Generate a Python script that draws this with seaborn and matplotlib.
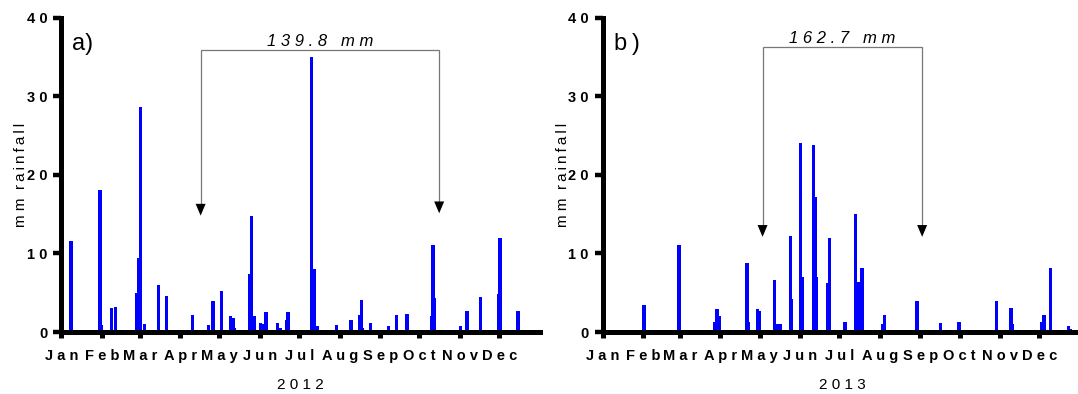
import numpy as np
import pandas as pd
import matplotlib
matplotlib.use("Agg")
import matplotlib.pyplot as plt
import seaborn as sns

# Daily rainfall: day of year (0 = 1 January) and amount in mm
days_2012 = [7, 29, 30, 38, 41, 57, 59, 60, 63, 74, 80, 100, 112, 115, 116, 122,
             129, 131, 132, 144, 145, 147, 152, 154, 156, 164, 165, 167, 172, 173,
             182, 183, 191, 193, 195, 209, 210, 221, 228, 229, 230, 236, 250, 256,
             264, 283, 284, 285, 305, 310, 320, 334, 335, 349]
rain_2012 = [11.6, 18.0, 0.9, 3.0, 3.2, 5.0, 9.4, 28.6, 1.0, 6.0, 4.6, 2.1, 0.9, 4.0,
             4.0, 5.2, 2.0, 1.8, 0.5, 7.4, 14.8, 2.0, 1.2, 1.0, 2.5, 0.3, 1.2, 0.5,
             1.5, 2.6, 0.3, 0.3, 35.0, 8.0, 0.7, 0.2, 0.9, 1.5, 2.1, 4.1, 0.5, 1.2,
             0.7, 2.1, 2.3, 2.0, 11.1, 4.3, 0.7, 2.7, 4.5, 4.8, 12.0, 2.7]

days_2013 = [31, 58, 85, 87, 89, 110, 111, 118, 119, 131, 133, 135, 143, 144, 149,
             151, 152, 161, 162, 163, 172, 173, 185, 193, 195, 198, 200, 214, 215,
             240, 256, 258, 272, 301, 312, 313, 332, 335, 337, 342, 356, 357]
rain_2013 = [3.4, 11.1, 1.3, 2.9, 2.0, 8.8, 1.3, 2.9, 2.7, 6.6, 1.0, 1.0, 12.2, 4.2,
             0.2, 24.0, 7.0, 23.8, 17.2, 7.0, 6.2, 12.0, 1.3, 15.0, 6.4, 8.2, 0.2,
             1.0, 2.1, 4.0, 0.2, 1.1, 1.3, 3.9, 3.1, 1.0, 0.2, 1.3, 2.1, 8.2, 0.7, 0.4]

months = ["Jan", "Feb", "Mar", "Apr", "May", "Jun",
          "Jul", "Aug", "Sep", "Oct", "Nov", "Dec"]
month_starts_2012 = [0, 31, 60, 91, 121, 152, 182, 213, 244, 274, 305, 335]
month_starts_2013 = [0, 31, 59, 90, 120, 151, 181, 212, 243, 273, 304, 334]
y_ticks = [0, 10, 20, 30, 40]

# Growing-season totals and the period they cover (day of year)
season_labels = ["139.8 mm", "162.7 mm"]
season_2012 = [106.6, 289.1]
season_2013 = [122.3, 244.4]

sns.set_theme(style="white")
plt.rcParams["font.family"] = ["Liberation Sans", "DejaVu Sans"]
plt.rcParams["axes.edgecolor"] = "black"

BLUE = "#0000ff"
GREY = "#777777"


def spaced(text, sep=" "):
    return sep.join(text)


def draw_panel(ax, year, days, rain, month_starts, letter, label, season,
               bracket_y, text_y, tips):
    n_days = 366
    full = pd.DataFrame({"day": np.arange(n_days) + 0.5, "mm": 0.0})
    full.loc[days, "mm"] = rain
    sns.barplot(data=full, x="day", y="mm", native_scale=True, width=2.6,
                color=BLUE, saturation=1, linewidth=0, edgecolor="none",
                errorbar=None, ax=ax)

    ax.set_xlim(0, n_days)
    ax.set_ylim(0, 40)
    ax.set_xticks(month_starts, [spaced(m) for m in months])
    ax.set_yticks(y_ticks, [spaced(str(v)) for v in y_ticks])
    ax.tick_params(axis="x", direction="out", length=4.5, width=3.6, pad=8.0,
                   labelsize=10.5, colors="black", bottom=True)
    ax.tick_params(axis="y", direction="out", length=5.5, width=3.2, pad=4.5,
                   labelsize=10.5, colors="black", left=True)
    for lab in ax.get_xticklabels() + ax.get_yticklabels():
        lab.set_fontweight("bold")
    ax.spines[["top", "right"]].set_visible(False)
    for side in ["left", "bottom"]:
        ax.spines[side].set_linewidth(3.6)
        ax.spines[side].set_color("black")

    ax.set_xlabel(spaced(str(year)), fontsize=11, color="black")
    ax.xaxis.set_label_coords(0.5, -0.147)
    ax.set_ylabel("m m  " + spaced("rainfall", "\u2009"), fontsize=11, color="black")
    ax.yaxis.set_label_coords(-0.0692, 0.5)

    ax.text(8.3, 36.6, letter, fontsize=17, ha="left", va="center", color="black")

    # bracket marking the season and its rainfall total
    x1, x2 = season
    ax.plot([x1, x1, x2, x2], [tips[0] + 0.6, bracket_y, bracket_y, tips[1] + 0.6],
            color=GREY, lw=0.9, solid_joinstyle="miter", solid_capstyle="butt")
    for x, tip in zip(season, tips):
        ax.annotate("", xy=(x, tip), xytext=(x, tip + 3.0),
                    arrowprops=dict(arrowstyle="-|>,head_length=0.85,head_width=0.36",
                                    mutation_scale=10, fc="black", ec="none", lw=0,
                                    shrinkA=0, shrinkB=0))
    ax.text((x1 + x2) / 2, text_y, spaced(label.replace(" ", "")[:-2]) + "   m m",
            fontsize=12, style="italic", ha="center", va="baseline", color="black")


fig = plt.figure(figsize=(10.78, 3.94), dpi=100)
ax_a = fig.add_axes([0.05686, 0.15736, 0.44378, 0.79822])
ax_b = fig.add_axes([0.55909, 0.15736, 0.44378, 0.79822])

draw_panel(ax_a, 2012, days_2012, rain_2012, month_starts_2012, "a)",
           season_labels[0], season_2012, 35.9, 36.4, (14.8, 15.1))
draw_panel(ax_b, 2013, days_2013, rain_2013, month_starts_2013, "b\u2009)",
           season_labels[1], season_2013, 36.2, 36.7, (12.1, 12.1))

fig.savefig("out.png", dpi=100)
